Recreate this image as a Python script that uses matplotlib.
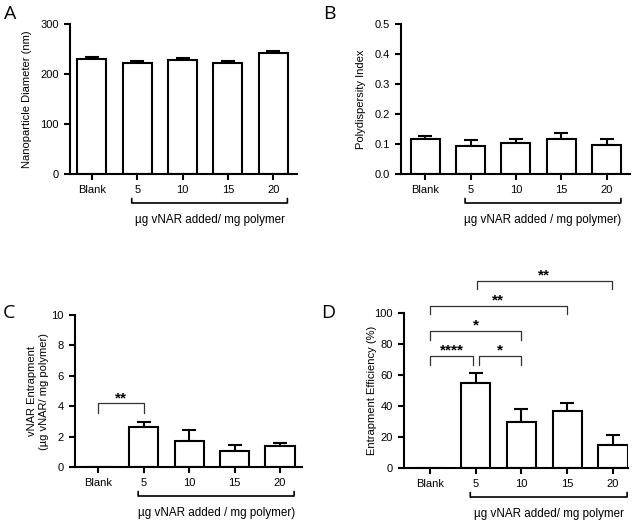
import numpy as np
import matplotlib.pyplot as plt
from matplotlib.transforms import offset_copy

plt.rcParams['font.family'] = ['Liberation Sans', 'DejaVu Sans']

#-- Data
groups = ['Blank', '5', '10', '15', '20']

diameter = [230, 222, 228, 222, 241]
diameter_err = [4, 4, 3, 4, 5]

pdi = [0.115, 0.094, 0.103, 0.118, 0.097]
pdi_err = [0.012, 0.019, 0.012, 0.019, 0.020]

entrap = [0, 2.6, 1.72, 1.05, 1.4]
entrap_err = [0, 0.36, 0.73, 0.37, 0.15]

effic = [0, 55, 29.5, 36.5, 14.8]
effic_err = [0, 6, 8.5, 5.5, 6.6]

# significance brackets: (x1, x2, top, tick bottom, label)
sig_c = [(0, 1, 4.2, 3.55, '**')]
sig_d = [(0, 0.94, 72.3, 66.5, '****'),
         (1.07, 2.0, 72.3, 66.5, '*'),
         (0, 2.0, 88.6, 82.6, '*'),
         (0, 2.99, 104.7, 99.2, '**'),
         (1.02, 3.98, 120.8, 115.3, '**')]

W, H = 638, 521
fig = plt.figure(figsize=[W / 100, H / 100], dpi=100)


def make_ax(x0, x1, ytop, ybot):
    # pixel box -> figure fraction
    return fig.add_axes([x0 / W, 1 - ybot / H, (x1 - x0) / W, (ybot - ytop) / H])


def draw_panel(ax, vals, errs, ylim, yticks, ylabel, xlim, group_label, labelpad):
    x = np.arange(len(groups))
    vals = np.array(vals)
    errs = np.array(errs)
    ax.bar(x, vals, width=0.64, color='white', edgecolor='black', linewidth=1.5, zorder=2)
    m = errs > 0
    ax.errorbar(x[m], vals[m], yerr=[np.zeros(m.sum()), errs[m]],
                fmt='none', ecolor='black', elinewidth=1.5, capsize=5, capthick=1.5, zorder=1)
    ax.set_xlim(*xlim)
    ax.set_ylim(*ylim)
    ax.set_yticks(yticks)
    ax.set_xticks(x)
    ax.set_xticklabels(groups)
    ax.set_ylabel(ylabel, fontsize=8, labelpad=labelpad)
    for s in ['top', 'right']:
        ax.spines[s].set_visible(False)
    for s in ['left', 'bottom']:
        ax.spines[s].set_linewidth(1.5)
    ax.tick_params(width=1.5, length=4, labelsize=8, pad=4)

    # group bracket under 5..20
    xa, xb = 0.88, 4.31
    base = ax.get_xaxis_transform()
    lo = offset_copy(base, fig=fig, y=-29, units='dots')
    hi = offset_copy(base, fig=fig, y=-24.5, units='dots')
    ax.plot([xa, xb], [0, 0], color='black', lw=1.2, clip_on=False, transform=lo,
            solid_capstyle='butt')
    for xx in (xa, xb):
        ax.annotate('', xy=(xx, 0), xycoords=lo, xytext=(xx, 0), textcoords=hi,
                    arrowprops=dict(arrowstyle='-', color='black', lw=1.2,
                                    shrinkA=0, shrinkB=0))
    trl = offset_copy(base, fig=fig, y=-46, units='dots')
    ax.text((xa + xb) / 2, 0, group_label, transform=trl, ha='center', va='center',
            fontsize=8.4)


def draw_sig(ax, sig):
    trs = offset_copy(ax.transData, fig=fig, y=1, units='dots')
    for x1, x2, top, bot, lab in sig:
        ax.plot([x1, x1, x2, x2], [bot, top, top, bot], color='#333333', lw=0.9,
                clip_on=False)
        ax.text((x1 + x2) / 2, top, lab, transform=trs, ha='center', va='baseline',
                fontsize=11, fontweight='bold')


axA = make_ax(70, 296.7, 24, 174)
draw_panel(axA, diameter, diameter_err, (0, 300), [0, 100, 200, 300],
           'Nanoparticle Diameter (nm)', (-0.48, 4.515),
           'µg vNAR added/ mg polymer', 6)

axB = make_ax(401, 630, 24, 174)
draw_panel(axB, pdi, pdi_err, (0, 0.5), [0, 0.1, 0.2, 0.3, 0.4, 0.5],
           'Polydispersity Index', (-0.53, 4.51),
           'µg vNAR added / mg polymer)', 6)
axB.set_yticklabels(['0.0', '0.1', '0.2', '0.3', '0.4', '0.5'])

axC = make_ax(75, 302.3, 315, 467)
draw_panel(axC, entrap, entrap_err, (0, 10), [0, 2, 4, 6, 8, 10],
           'vNAR Entrapment\n(µg vNAR/ mg polymer)', (-0.51, 4.49),
           'µg vNAR added / mg polymer)', 2)
draw_sig(axC, sig_c)

axD = make_ax(404, 628, 313, 468)
draw_panel(axD, effic, effic_err, (0, 100), [0, 20, 40, 60, 80, 100],
           'Entrapment Efficiency (%)', (-0.57, 4.33),
           'µg vNAR added/ mg polymer', -2)
draw_sig(axD, sig_d)

# panel letters
for lab, px, py in [('A', 10, 14), ('B', 329, 14), ('C', 9, 313), ('D', 328, 313)]:
    fig.text(px / W, 1 - py / H, lab, fontsize=14, ha='center', va='center',
             family=['Open Sans', 'DejaVu Sans'])

plt.savefig('out.png', dpi=100)
